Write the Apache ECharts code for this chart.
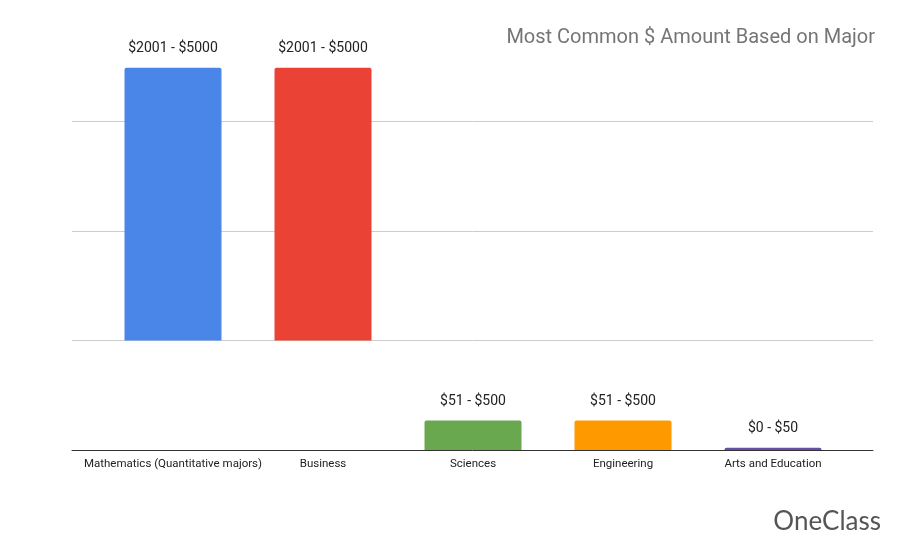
<!DOCTYPE html>
<html>
<head>
<meta charset="utf-8">
<script src="https://cdn.jsdelivr.net/npm/echarts@6/dist/echarts.min.js"></script>
<style>html,body{margin:0;padding:0;background:#fff}#main{width:905px;height:555px}</style>
</head>
<body>
<div id="main"></div>
<script>
// categories and values (bars float: start and end values)
const majors = ['Mathematics (Quantitative majors)', 'Business', 'Sciences', 'Engineering', 'Arts and Education'];
const barStart = [1, 1, 0, 0, 0];
const barEnd = [3.49, 3.49, 0.27, 0.27, 0.02];
const rangeLabels = ['$2001 - $5000', '$2001 - $5000', '$51 - $500', '$51 - $500', '$0 - $50'];
const barColors = ['#4a86e8', '#ea4335', '#6aa84f', '#ff9900', '#674ea7'];

const chart = echarts.init(document.getElementById('main'));

chart.setOption({
    backgroundColor: '#fff',
    animation: false,
    title: {
        text: 'Most Common $ Amount Based on Major',
        right: 25,
        top: 23,
        textStyle: { color: '#757575', fontSize: 20, fontWeight: 'normal', fontFamily: 'Roboto' }
    },
    grid: [
        { left: 72, right: 32, top: 12, bottom: 105 },
        { left: 98, right: 57, top: 12, bottom: 105 }
    ],
    xAxis: [{
        gridIndex: 0,
        type: 'category',
        data: [''],
        axisTick: { show: false },
        axisLabel: { show: false },
        axisLine: { lineStyle: { color: '#333' } }
    }, {
        gridIndex: 1,
        type: 'category',
        data: majors,
        axisTick: { show: false },
        axisLine: { show: false },
        axisLabel: { color: '#222', fontSize: 11.5, fontFamily: 'Roboto', margin: 8, interval: 0 }
    }],
    yAxis: [{
        gridIndex: 0,
        type: 'value',
        min: 0,
        max: 4,
        interval: 1,
        axisLabel: { show: false },
        splitLine: { lineStyle: { color: ['#cccccc', '#cccccc', '#cccccc', '#cccccc', 'transparent'] } }
    }, {
        gridIndex: 1,
        type: 'value',
        min: 0,
        max: 4,
        show: false,
        splitLine: { show: false }
    }],
    series: [{
        type: 'bar',
        xAxisIndex: 1,
        yAxisIndex: 1,
        stack: 'b',
        barWidth: 97,
        silent: true,
        itemStyle: { color: 'transparent' },
        data: barStart
    }, {
        type: 'bar',
        xAxisIndex: 1,
        yAxisIndex: 1,
        stack: 'b',
        barWidth: 97,
        data: barEnd.map((v, i) => ({
            value: v - barStart[i],
            itemStyle: { color: barColors[i], borderRadius: [2, 2, 0, 0] }
        })),
        label: {
            show: true,
            position: 'top',
            distance: 12,
            color: '#222',
            fontSize: 14,
            fontFamily: 'Roboto',
            formatter: p => rangeLabels[p.dataIndex]
        }
    }],
    graphic: [{
        type: 'text',
        right: 24,
        bottom: 20,
        style: { text: 'OneClass', fill: '#555', fontSize: 26, fontFamily: 'Lato' }
    }]
});
</script>
</body>
</html>
